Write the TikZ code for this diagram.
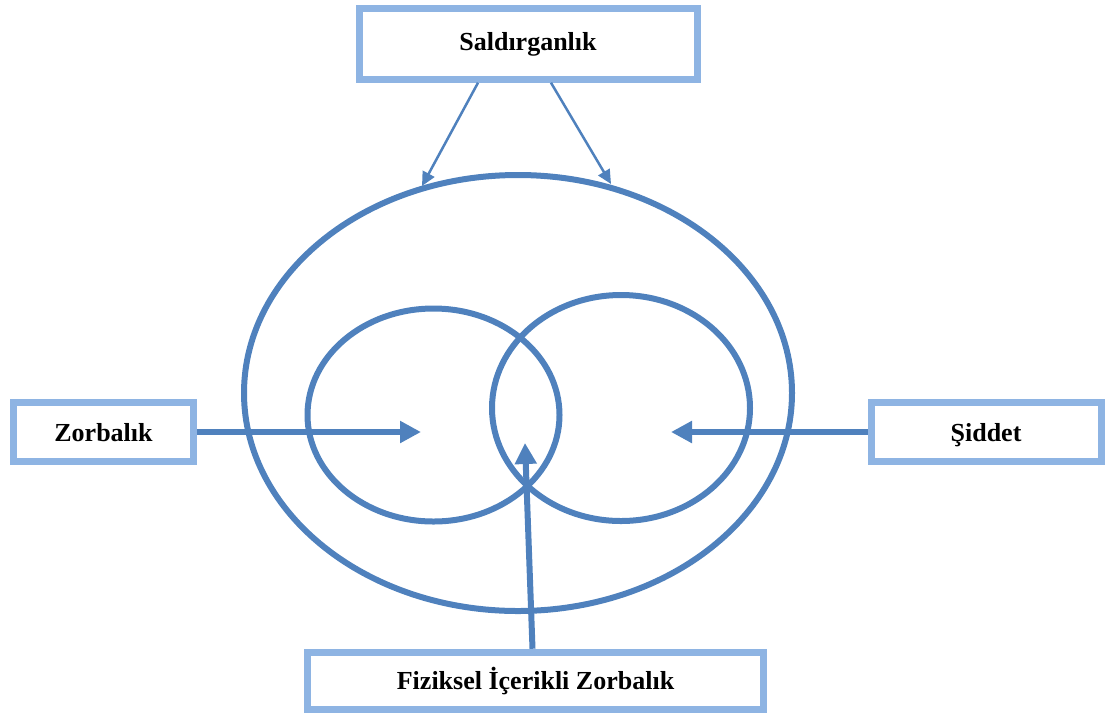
\documentclass[tikz,border=0pt]{standalone}
\usepackage{fontspec}
\setmainfont{Liberation Serif}
\usetikzlibrary{arrows.meta}
\definecolor{dblue}{HTML}{4F81BD}
\definecolor{lblue}{HTML}{8EB4E3}
\begin{document}
\begin{tikzpicture}[x=1pt,y=-1pt,
  lbl/.style={draw=lblue,line width=7pt,fill=white,inner sep=0pt,
    font=\fontsize{26}{30}\selectfont\bfseries},
  ring/.style={draw=dblue,line width=6pt},
  bigarrow/.style={draw=dblue,line width=6pt,-{Triangle[length=21pt,width=21pt]}},
  thinarrow/.style={draw=dblue,line width=2.5pt,-{Triangle[length=14pt,width=13pt]}}]
\useasboundingbox (0,0) rectangle (1107,713);
% ellipses
\draw[ring] (518,393) ellipse [x radius=274, y radius=218];
\draw[ring] (433.5,415) ellipse [x radius=126, y radius=106.5];
\draw[ring] (621,408) ellipse [x radius=129, y radius=113];
% boxes
\node[lbl,minimum width=338pt,minimum height=70.5pt] (sal) at (528,44) {Saldırganlık};
\node[lbl,minimum width=180pt,minimum height=58.5pt,text depth=0pt] (zor) at (103.5,432) {Zorbalık};
\node[lbl,minimum width=230pt,minimum height=58.5pt,text depth=0pt] (sid) at (986,432) {Şiddet};
\node[lbl,minimum width=456pt,minimum height=57.5pt] (fiz) at (535.5,681) {Fiziksel İçerikli Zorbalık};
% target points
\coordinate (t1) at (422,186);
\coordinate (t2) at (611,184);
\coordinate (tz) at (421,432);
\coordinate (ts) at (671,432);
\coordinate (tf) at (525,443);
% connectors
\draw[thinarrow] ([xshift=-50pt]sal.south) -- (t1);
\draw[thinarrow] ([xshift=23pt]sal.south) -- (t2);
\draw[bigarrow] (zor) -- (tz);
\draw[bigarrow] (sid) -- (ts);
\draw[bigarrow] ([xshift=-3pt]fiz.north) -- (tf);
\end{tikzpicture}
\end{document}
